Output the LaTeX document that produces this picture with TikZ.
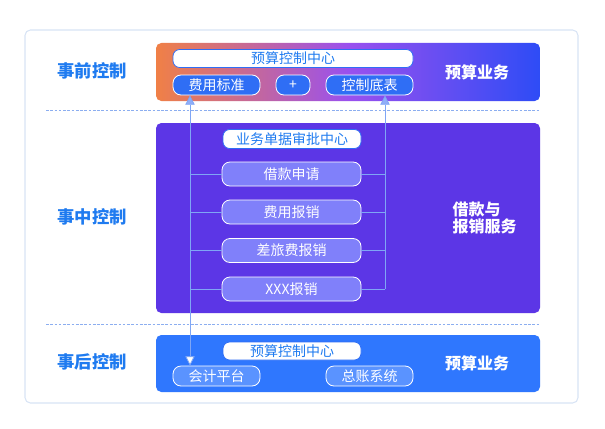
\documentclass[tikz,border=0pt]{standalone}
\usepackage{fontspec}
\setmainfont{Noto Sans CJK SC}
\usetikzlibrary{arrows.meta}
\definecolor{frameC}{HTML}{D8E4F5}
\definecolor{sideC}{HTML}{1F7BF0}
\definecolor{dashC}{HTML}{8CAEF0}
\definecolor{lineC}{HTML}{7FA6F5}
\definecolor{arrC}{HTML}{90AEF8}
\definecolor{orgC}{HTML}{F08046}
\definecolor{purC}{HTML}{9A50EE}
\definecolor{bluC}{HTML}{2E4CF6}
\definecolor{midC}{HTML}{5C36E6}
\definecolor{botC}{HTML}{2F77FE}
\definecolor{topBox}{HTML}{2F6EF5}
\definecolor{midBox}{HTML}{8080FA}
\definecolor{botBox}{HTML}{5A93FF}
\definecolor{txtBlue}{HTML}{1F7BF0}
\tikzset{
  band/.style={rounded corners=4pt},
  sidelabel/.style={text=sideC,font=\fontsize{13}{15}\selectfont\bfseries},
  bandlabel/.style={text=white,font=\fontsize{12}{13.5}\selectfont\bfseries,align=left},
  whitebox/.style={draw=topBox,line width=0.6pt,fill=white,rounded corners=5pt,text=txtBlue,
    font=\fontsize{10.5}{12}\selectfont,inner sep=0pt},
  colbox/.style={draw=white,line width=0.6pt,rounded corners=6pt,text=white,
    font=\fontsize{10.5}{12}\selectfont,inner sep=0pt},
  conn/.style={draw=lineC,line width=0.6pt},
  sepline/.style={draw=dashC,line width=0.6pt,dash pattern=on 2pt off 1.2pt},
}
\begin{document}
\begin{tikzpicture}[x=0.75pt,y=-0.75pt]
\useasboundingbox (0,0) rectangle (605,428);
% outer frame
\draw[frameC,line width=0.8pt,rounded corners=4pt,fill=white] (25,30) rectangle (578,403);
% separators
\draw[sepline] (46,110) -- (540,110);
\draw[sepline] (46,324) -- (540,324);
% bands
\shade[band,left color=orgC,right color=bluC,middle color=purC] (156,43) rectangle (540,101);
\fill[band,midC] (156,123) rectangle (540,313);
\fill[band,botC] (156,335) rectangle (540,392);
% side labels
\node[sidelabel] (l1) at (92,71) {事前控制};
\node[sidelabel] (l2) at (92,217) {事中控制};
\node[sidelabel] (l3) at (92,362) {事后控制};
% band labels
\node[bandlabel] (r1) at (477,72) {预算业务};
\node[bandlabel,anchor=west] (r2) at (448,218) {借款与\\[-1pt]报销服务};
\node[bandlabel] (r3) at (477,363) {预算业务};
% top boxes
\node[whitebox,minimum width=240*0.75pt,minimum height=18*0.75pt] (tc) at (293,58.5) {预算控制中心};
\node[colbox,fill=topBox,minimum width=87*0.75pt,minimum height=20*0.75pt] (fb) at (216.5,85) {费用标准};
\node[colbox,fill=topBox,minimum width=34*0.75pt,minimum height=20*0.75pt] (pl) at (293,85) {+};
\node[colbox,fill=topBox,minimum width=87*0.75pt,minimum height=20*0.75pt] (kz) at (369.5,85) {控制底表};
% middle boxes
\node[whitebox,minimum width=138*0.75pt,minimum height=19*0.75pt] (sp) at (292,139) {业务单据审批中心};
\node[colbox,fill=midBox,minimum width=139*0.75pt,minimum height=24*0.75pt] (b1) at (291.5,174) {借款申请};
\node[colbox,fill=midBox,minimum width=139*0.75pt,minimum height=24*0.75pt] (b2) at (291.5,212) {费用报销};
\node[colbox,fill=midBox,minimum width=139*0.75pt,minimum height=24*0.75pt] (b3) at (291.5,250.5) {差旅费报销};
\node[colbox,fill=midBox,minimum width=139*0.75pt,minimum height=24*0.75pt] (b4) at (291.5,289) {XXX报销};
% bottom boxes
\node[whitebox,minimum width=138*0.75pt,minimum height=18*0.75pt] (bc) at (292,351) {预算控制中心};
\node[colbox,fill=botBox,minimum width=87*0.75pt,minimum height=20*0.75pt] (kj) at (216.5,376) {会计平台};
\node[colbox,fill=botBox,minimum width=87*0.75pt,minimum height=20*0.75pt] (zz) at (369.5,376) {总账系统};
% rails
\coordinate (lx) at (190,0);
\coordinate (rx) at (385,0);
\coordinate (rb) at (385,289);
\draw[conn,{Triangle[open,fill=white,width=7pt,length=7pt]}-{Triangle[fill=arrC,width=7pt,length=7pt]}]
  (kj.north -| lx) -- (fb.south -| lx);
\draw[conn,-{Triangle[fill=arrC,width=7pt,length=7pt]}] (rb) -- (kz.south -| rx);
\foreach \b in {b1,b2,b3,b4}{
  \draw[conn] (\b.west -| lx) -- (\b.west);
  \draw[conn] (\b.east) -- (\b.east -| rx);
}
\end{tikzpicture}
\end{document}
